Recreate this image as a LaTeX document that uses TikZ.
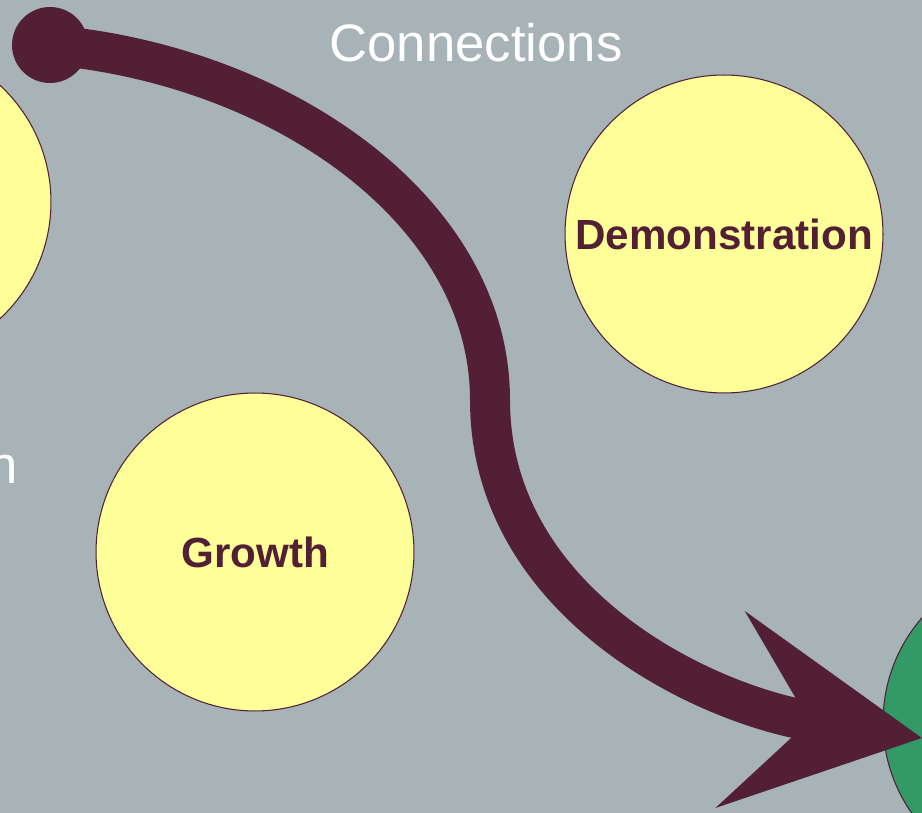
\documentclass[tikz,border=0pt]{standalone}
\usepackage{fontspec}
\setmainfont{Liberation Sans}
\usetikzlibrary{arrows.meta}

\definecolor{slate}{HTML}{A7B3B6}
\definecolor{wine}{HTML}{521F35}
\definecolor{lemon}{HTML}{FFFF99}
\definecolor{leaf}{HTML}{339966}

\tikzset{
  bubble/.style={circle, draw=wine, line width=0.6pt, fill=lemon, minimum size=6.36cm,
    inner sep=0pt, text=wine, font=\fontsize{24}{28}\selectfont\bfseries},
  title/.style={text=white, font=\fontsize{30}{34}\selectfont, inner sep=0pt},
  link/.style={draw=wine, line width=0.8cm,
    -{Stealth[length=3.84cm, width=3.92cm, inset=1.56cm]}},
}

\begin{document}
\begin{tikzpicture}[x=0.02cm, y=-0.02cm]
    % background, sized like the slide
    \fill[slate] (0,0) rectangle (922,813);
    \useasboundingbox (0,0) rectangle (922,813);
    \clip (0,0) rectangle (922,813);

    % circles
    \node[bubble] (left) at (-108,202) {};
    \node[bubble] (demo) at (724,234) {Demonstration};
    \node[bubble] (growth) at (255,552) {Growth};
    \node[bubble, fill=leaf] (target) at (1042,722) {};

    % texts
    \node[title] (head) at (476,43) {Connections};
    \node[title, anchor=base east] (cut) at (18,483) {n};

    % start of the arrow and its tip
    \node[circle, fill=wine, minimum size=1.52cm, inner sep=0pt] (start) at (50,45) {};
    \coordinate (tip) at (922,738);

    % the big arrow
    \draw[link] (start.center) .. controls (280,65) and (490,210) .. (490,400)
        .. controls (490,600) and (700,705) .. (tip);
\end{tikzpicture}
\end{document}
